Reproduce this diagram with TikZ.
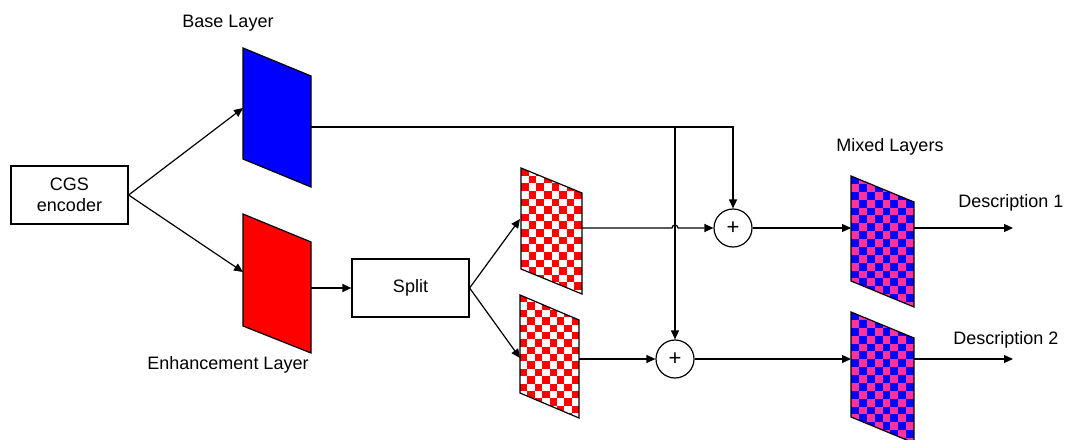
\documentclass[tikz,border=0pt]{standalone}
\usepackage{fontspec}
\setmainfont{Liberation Sans}
\usetikzlibrary{arrows.meta}
\definecolor{chkred}{RGB}{255,0,0}
\definecolor{mixblue}{RGB}{0,0,255}
\definecolor{mixpink}{RGB}{255,51,153}
\tikzset{
  line/.style={draw=black, line width=0.6pt},
  arr/.style={line, -{Triangle[length=4.5pt,width=4pt]}},
  box/.style={line, rectangle, minimum width=58.5pt, minimum height=29pt, align=center, inner sep=1pt},
  sumnode/.style={line, circle, minimum size=19pt, inner sep=0pt, font=\fontsize{11}{12}\selectfont},
  lbl/.style={inner sep=0pt},
  every node/.style={font=\fontsize{9}{10.8}\selectfont}
}
% x0, y0, width, height, colour A, colour B, drop of the top edge
\newcommand\chkpanel[7]{%
  \begin{scope}
    \clip (#1,#2) -- ({#1+#3},{#2+#7}) -- ({#1+#3},{#2+#7+#4}) -- (#1,{#2+#4}) -- cycle;
    \fill[#6] (#1,#2) rectangle ({#1+#3},{#2+#7+#4});
    \foreach \i in {0,...,7}{\foreach \j in {0,...,18}{%
      \pgfmathtruncatemacro\pp{mod(\i+\j,2)}%
      \ifnum\pp=0
        \fill[#5] ({#1+\i*#3/8},{#2+\j*#3/8}) rectangle ({#1+(\i+1)*#3/8},{#2+(\j+1)*#3/8});
      \fi
    }}
  \end{scope}
  \draw[line] (#1,#2) -- ({#1+#3},{#2+#7}) -- ({#1+#3},{#2+#7+#4}) -- (#1,{#2+#4}) -- cycle;}
\begin{document}
\begin{tikzpicture}[x=0.5pt, y=-0.5pt]
\useasboundingbox (0,0) rectangle (1065,439);

% layers
\draw[line, fill=mixblue] (243,48) -- (311,76) -- (311,187) -- (243,159) -- cycle;
\draw[line, fill=chkred] (243,214) -- (311,242) -- (311,353) -- (243,326) -- cycle;
\chkpanel{521}{168}{61}{101}{chkred}{white}{25}
\chkpanel{520}{295}{59}{98}{chkred}{white}{25}
\chkpanel{851}{176}{63}{105}{mixblue}{mixpink}{26}
\chkpanel{851}{312}{63}{105}{mixblue}{mixpink}{26}

% connection points
\coordinate (base-in) at (243,108);
\coordinate (base-out) at (311,127);
\coordinate (enh-in) at (243,272);
\coordinate (enh-out) at (311,288);
\coordinate (chk1-in) at (520,219);
\coordinate (chk1-out) at (582,228);
\coordinate (chk2-in) at (520,358);
\coordinate (chk2-out) at (579,359);
\coordinate (mix1-in) at (851,228);
\coordinate (mix1-out) at (914,228);
\coordinate (mix2-in) at (851,359);
\coordinate (mix2-out) at (914,359);
\coordinate (out1) at (1013,228);
\coordinate (out2) at (1013,359);
\coordinate (branch) at (675,127);
\coordinate (hop) at (672,228);

% nodes
\node[box] (cgs) at (69.5,195) {CGS\\encoder};
\node[box] (split) at (410.5,288) {Split};
\node[sumnode] (plus1) at (733,228) {+};
\node[sumnode] (plus2) at (675,359) {+};

% labels
\node[lbl] (lbase) at (228,23) {Base Layer};
\node[lbl] (lenh) at (228,365) {Enhancement Layer};
\node[lbl] (lmix) at (890,147) {Mixed Layers};
\node[lbl, anchor=west] (ld1) at (958,203) {Description 1};
\node[lbl, anchor=west] (ld2) at (953,340) {Description 2};

% connectors
\draw[arr] (cgs.east) -- (base-in);
\draw[arr] (cgs.east) -- (enh-in);
\draw[arr] (enh-out) -- (split.west);
\draw[arr] (split.east) -- (chk1-in);
\draw[arr] (split.east) -- (chk2-in);
\draw[arr] (base-out) -| (plus1.north);
\draw[arr] (branch) -- (plus2.north);
\draw[arr] (chk1-out) -- (hop) arc[start angle=180, end angle=0, radius=1.5pt] -- (plus1.west);
\draw[arr] (chk2-out) -- (plus2.west);
\draw[arr] (plus1.east) -- (mix1-in);
\draw[arr] (plus2.east) -- (mix2-in);
\draw[arr] (mix1-out) -- (out1);
\draw[arr] (mix2-out) -- (out2);
\end{tikzpicture}
\end{document}
